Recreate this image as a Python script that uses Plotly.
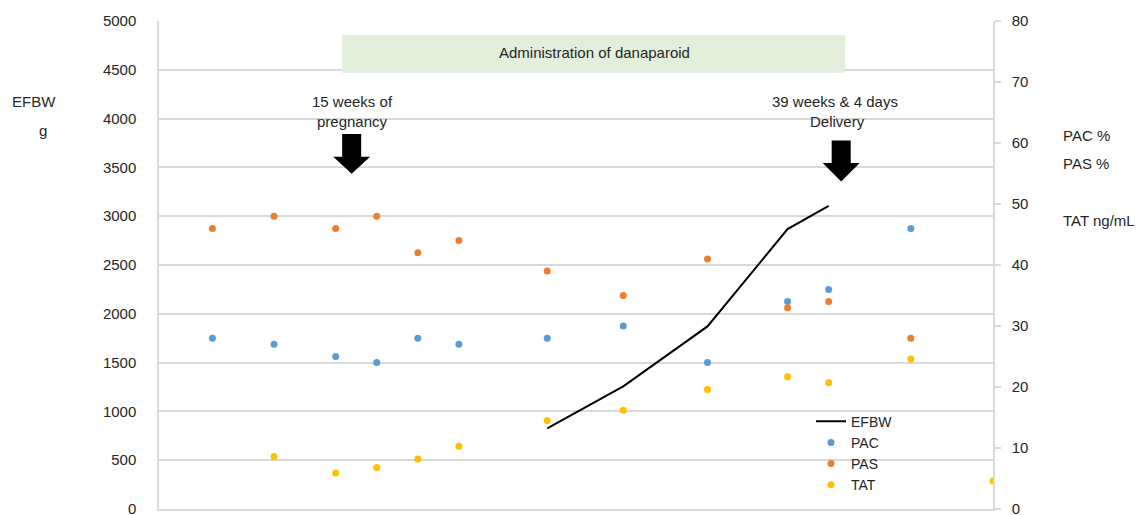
import plotly.graph_objects as go

# ---- data ----
weeks = [9.6, 12.6, 15.6, 17.6, 19.6, 21.6, 25.9, 29.6, 33.7, 37.6, 39.6, 43.6, 47.6]
pac = [28, 27, 25, 24, 28, 27, 28, 30, 24, 34, 36, 46, None]
pas = [46, 48, 46, 48, 42, 44, 39, 35, 41, 33, 34, 28, None]
tat = [None, 8.6, 5.9, 6.8, 8.2, 10.3, 14.5, 16.2, 19.6, 21.7, 20.7, 24.6, 4.6]
efbw_weeks = [25.9, 29.6, 33.7, 37.6, 39.6]
efbw = [827, 1257, 1871, 2868, 3106]

left_ticks = list(range(0, 5001, 500))
right_ticks = list(range(0, 81, 10))

FONT = "Liberation Sans, Arial, sans-serif"
TXT = "#262626"
GRID = "#d9d9d9"
FS = 15

fig = go.Figure()
fig.add_trace(go.Scatter(x=efbw_weeks, y=efbw, mode="lines", name="EFBW",
                         line=dict(color="black", width=2), yaxis="y"))
fig.add_trace(go.Scatter(x=weeks, y=pac, mode="markers", name="PAC",
                         marker=dict(color="#5B9BD5", size=7), yaxis="y2"))
fig.add_trace(go.Scatter(x=weeks, y=pas, mode="markers", name="PAS",
                         marker=dict(color="#ED7D31", size=7), yaxis="y2"))
fig.add_trace(go.Scatter(x=weeks, y=tat, mode="markers", name="TAT",
                         marker=dict(color="#FFC000", size=7), yaxis="y2"))

FIG_W, FIG_H = 1139, 515
# plot area in page pixels
L, R, T, B = 159, 993, 21, 509.5
W, H = R - L, B - T


def px(xp, yp):
    return (xp - L) / W, (B - yp) / H


shapes = []
# administration box (data coords)
shapes.append(dict(type="rect", xref="x", yref="y", x0=15.9, x1=40.4, y0=4470, y1=4857,
                   fillcolor="#E2EFDA", line=dict(width=0), layer="above"))


def block_arrow(xc, ytop, ybase, ytip, shaft_hw=0.463, head_hw=0.90):
    p = (f"M {xc-shaft_hw},{ytop} L {xc+shaft_hw},{ytop} L {xc+shaft_hw},{ybase} "
         f"L {xc+head_hw},{ybase} L {xc},{ytip} L {xc-head_hw},{ybase} "
         f"L {xc-shaft_hw},{ybase} Z")
    return dict(type="path", xref="x", yref="y", path=p, fillcolor="black",
                line=dict(width=0), layer="above")


shapes.append(block_arrow(16.38, 3843, 3608, 3434))
shapes.append(block_arrow(40.21, 3775, 3544, 3355))

annotations = []


def label(text, xp, yp, xanchor="center", size=FS):
    x, y = px(xp, yp)
    annotations.append(dict(text=text, x=x, y=y, xref="paper", yref="paper",
                            xanchor=xanchor, yanchor="middle", showarrow=False,
                            font=dict(family=FONT, size=size, color=TXT)))


label("Administration of danaparoid", 594, 53)
label("15 weeks of", 352, 102)
label("pregnancy", 352, 122)
label("39 weeks &amp; 4 days", 835, 102)
label("Delivery", 837, 122)
label("EFBW", 10, 102, "left")
label("g", 43, 131)
label("PAC %", 1061, 136, "left")
label("PAS %", 1061, 164, "left")
label("TAT ng/mL", 1061, 221, "left")

leg_x, leg_y = px(811, 406)

fig.update_layout(
    width=FIG_W, height=FIG_H,
    margin=dict(l=L, r=FIG_W - R, t=T, b=FIG_H - B, autoexpand=False),
    paper_bgcolor="white", plot_bgcolor="white",
    font=dict(family=FONT, size=FS, color=TXT),
    showlegend=True,
    legend=dict(x=leg_x, y=leg_y, xanchor="left", yanchor="top",
                bgcolor="rgba(0,0,0,0)", font=dict(family=FONT, size=14, color=TXT),
                tracegroupgap=0, itemwidth=30),
    xaxis=dict(range=[7.0, 47.6], showticklabels=False, showgrid=False, zeroline=False,
               showline=True, linecolor=GRID, linewidth=2, ticks="", automargin=False),
    yaxis=dict(range=[0, 5000], tickvals=left_ticks, showgrid=True, gridcolor=GRID,
               gridwidth=1.5, zeroline=False, showline=True, linecolor=GRID, linewidth=1.5,
               ticks="", ticklabelstandoff=18, ticklabeloverflow="allow", automargin=False,
               tickfont=dict(family=FONT, size=FS, color=TXT)),
    yaxis2=dict(range=[0, 80], tickvals=right_ticks, overlaying="y", side="right",
                showgrid=False, zeroline=False, showline=True, linecolor=GRID, linewidth=1.5,
                ticks="outside", ticklen=6, tickcolor=GRID, tickwidth=1.5,
                ticklabelstandoff=8, ticklabeloverflow="allow", automargin=False,
                tickfont=dict(family=FONT, size=FS, color=TXT)),
    shapes=shapes, annotations=annotations,
)

fig.write_html("out.html", config={"displayModeBar": False},
               post_script="document.body.style.margin='0';document.body.style.overflow='hidden';")
